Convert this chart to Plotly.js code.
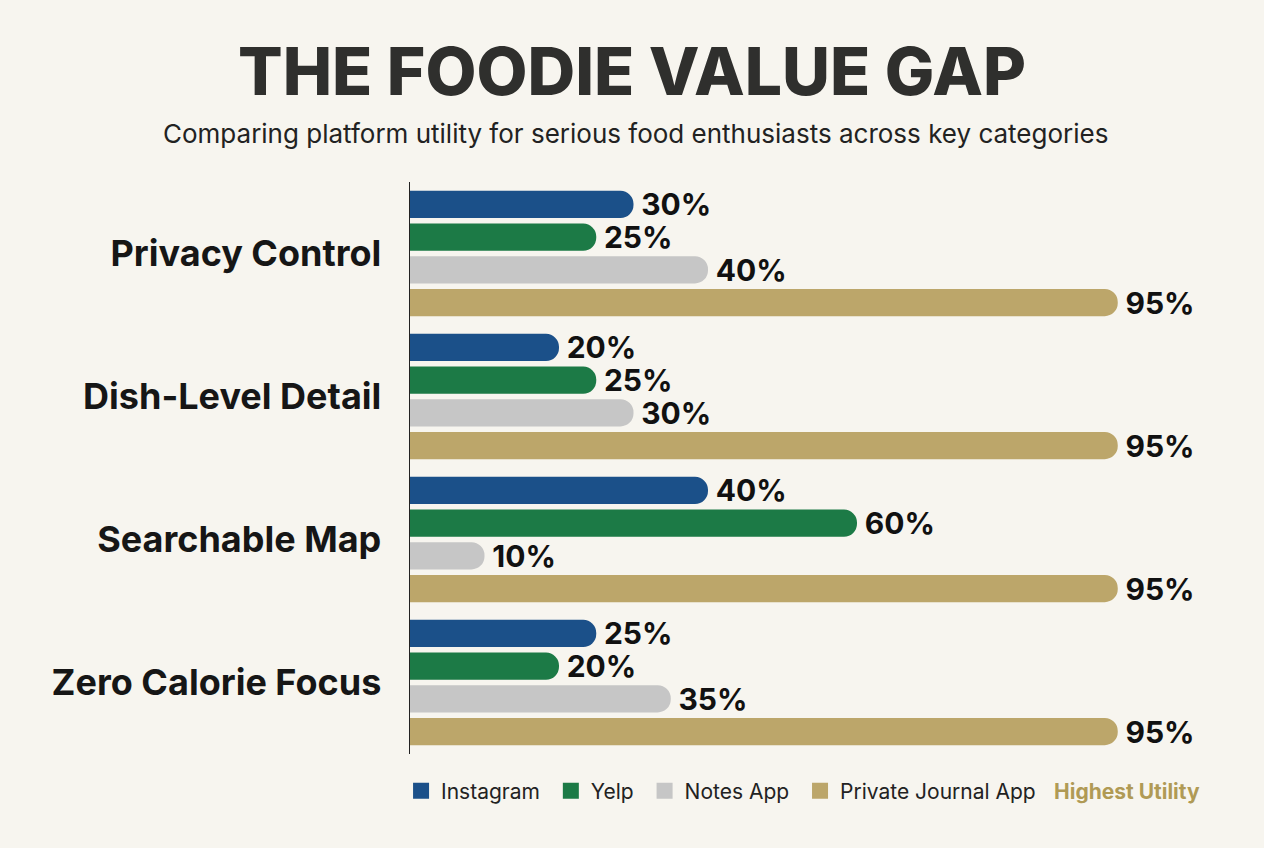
<!DOCTYPE html>
<html>
<head>
<meta charset="utf-8">
<script src="https://cdn.plot.ly/plotly-3.0.1.min.js"></script>
<style>
  html, body { margin: 0; padding: 0; background: #f7f5ef; }
  #chart { width: 1264px; height: 848px; }
</style>
</head>
<body>
<div id="chart"></div>
<script>
'use strict';

const categories = ['Privacy Control', 'Dish-Level Detail', 'Searchable Map', 'Zero Calorie Focus'];
const instagram = [30, 20, 40, 25];
const yelp = [25, 25, 60, 20];
const notesApp = [40, 30, 10, 35];
const journalApp = [95, 95, 95, 95];

const seriesNames = ['Instagram', 'Yelp', 'Notes App', 'Private Journal App'];
const seriesColors = ['#1b5089', '#1c7a46', '#c6c6c6', '#bca66a'];
const seriesValues = [instagram, yelp, notesApp, journalApp];

const FONT = 'Inter, Liberation Sans, Arial, sans-serif';

const traces = seriesValues.map((vals, i) => ({
    type: 'bar', orientation: 'h', y: categories, x: vals,
    name: seriesNames[i], showlegend: false, hoverinfo: 'skip',
    marker: { color: seriesColors[i], cornerradius: 13, line: { width: 0 } },
    text: vals.map(v => '\u2009' + v + '%'),
    textposition: 'outside', constraintext: 'none', cliponaxis: false,
    textfont: { family: FONT, size: 30, color: '#111', weight: 700 },
}));

// legend-only entries: bigger swatches than the bar legend symbols
seriesNames.forEach((n, i) => traces.push({
    type: 'scatter', mode: 'markers', x: [null], y: [null], name: n + '\u00a0',
    marker: { symbol: 'square', size: 18, color: seriesColors[i] },
    hoverinfo: 'skip',
}));

const layout = {
    width: 1264, height: 848,
    paper_bgcolor: '#f7f5ef', plot_bgcolor: '#f7f5ef',
    margin: { l: 410, r: 109, t: 182, b: 94 },
    barmode: 'group', bargap: 0.085, bargroupgap: 0.17,
    title: {
        text: 'THE FOODIE VALUE GAP',
        font: { family: FONT, size: 66, color: '#2f2f2d', weight: 800 },
        x: 0.5, xanchor: 'center', xref: 'container', y: 1 - 72 / 848, yanchor: 'middle',
    },
    xaxis: {
        range: [0, 100], showgrid: false, zeroline: false, showticklabels: false,
        showline: false, fixedrange: true,
    },
    yaxis: {
        autorange: 'reversed', showgrid: false, zeroline: false,
        showline: true, linecolor: '#222', linewidth: 1.5,
        ticks: '', ticklabelstandoff: 20,
        tickfont: { family: FONT, size: 36, color: '#161616', weight: 700 },
    },
    legend: {
        orientation: 'h', x: -0.012, xanchor: 'left', y: -0.065, yanchor: 'middle',
        traceorder: 'normal',
        font: { family: FONT, size: 21, color: '#222' },
        bgcolor: 'rgba(0,0,0,0)', itemwidth: 30,
    },
    annotations: [
        {
            text: 'Comparing platform utility for serious food enthusiasts across key categories',
            xref: 'paper', yref: 'paper', x: (635 - 410) / 745, y: 1 + 49 / 572,
            xanchor: 'center', yanchor: 'middle', showarrow: false,
            font: { family: FONT, size: 26, color: '#222' },
        },
        {
            text: '<b>Highest Utility</b>',
            xref: 'paper', yref: 'paper', x: (1052 - 410) / 745, y: -0.065,
            xanchor: 'left', yanchor: 'middle', showarrow: false,
            font: { family: FONT, size: 21, color: '#b09a55' },
        },
    ],
};

Plotly.newPlot('chart', traces, layout, { displayModeBar: false, staticPlot: true });
</script>
</body>
</html>
